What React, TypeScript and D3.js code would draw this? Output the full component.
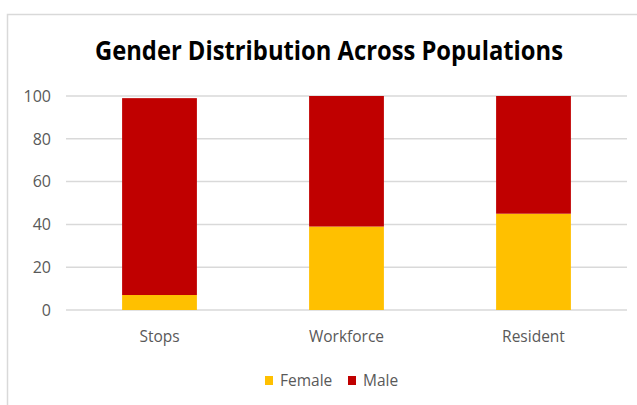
import React from 'react'
import * as d3 from 'd3'

const categories = ['Stops', 'Workforce', 'Resident']
const female = [7, 39, 45]
const male = [92, 61, 55]
const yTicks = [0, 20, 40, 60, 80, 100]
const seriesNames = ['Female', 'Male']
const seriesColors = ['#FFC000', '#C00000']

const W = 637
const H = 405

const App = () => {
  const x = d3.scaleBand().domain(categories).range([66, 627]).paddingInner(0.6).paddingOuter(0.3)
  const y = d3.scaleLinear().domain([0, 100]).range([310, 96])

  const rows = categories.map((c, i) => ({ cat: c, Female: female[i], Male: male[i] }))
  const stacked = d3.stack().keys(seriesNames)(rows as any)

  const font = '"Open Sans", sans-serif'
  // legend entries: square x, text x
  const legend = [[265, 280], [348, 363]]

  return (
    <svg width={W} height={H} style={{ position: 'absolute', left: 0, top: 0 }}>
      <rect x={0} y={0} width={W} height={H} fill="#fff" />
      <rect x={7.5} y={14.5} width={W} height={H} fill="none" stroke="#d9d9d9" strokeWidth={1.5} />
      <text x={95} y={60} fontFamily={font} fontWeight="bold" fontSize={27} fill="#000"
        textLength={468} lengthAdjust="spacingAndGlyphs">
        Gender Distribution Across Populations
      </text>
      {yTicks.map(t => (
        <g key={t}>
          <line x1={66} x2={627} y1={y(t)} y2={y(t)} stroke="#d9d9d9" strokeWidth={1.5} />
          <text x={51} y={y(t)} dy="0.36em" textAnchor="end" fontFamily={font} fontSize={16} fill="#595959">{t}</text>
        </g>
      ))}
      {stacked.map((s, si) => (
        <g key={s.key} fill={seriesColors[si]}>
          {s.map((d, i) => (
            <rect key={i} x={x(categories[i])} width={x.bandwidth()} y={y(d[1])} height={y(d[0]) - y(d[1])} />
          ))}
        </g>
      ))}
      {categories.map(c => (
        <text key={c} x={(x(c) as number) + x.bandwidth() / 2} y={337} dy="0.35em" textAnchor="middle" fontFamily={font} fontSize={15.5} fill="#595959">{c}</text>
      ))}
      {seriesNames.map((n, i) => (
        <g key={n}>
          <rect x={legend[i][0]} y={376} width={8} height={9} fill={seriesColors[i]} />
          <text x={legend[i][1]} y={380} dy="0.36em" fontFamily={font} fontSize={15.5} fill="#595959">{n}</text>
        </g>
      ))}
    </svg>
  )
}

export default App
